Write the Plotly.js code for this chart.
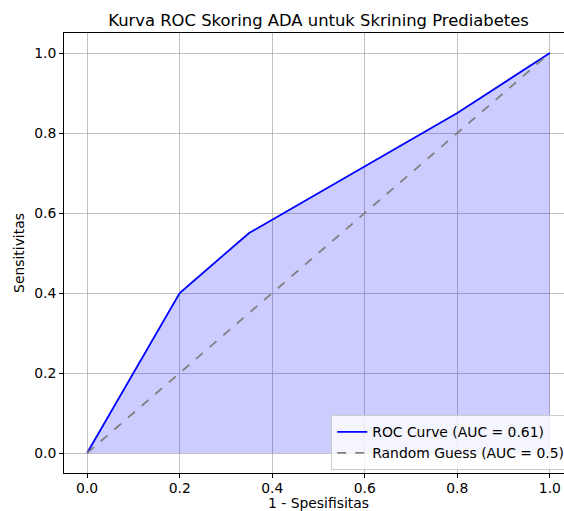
<!DOCTYPE html>
<html>
<head>
<meta charset="utf-8">
<script src="https://cdn.plot.ly/plotly-3.0.1.min.js"></script>
<style>
html,body{margin:0;padding:0;overflow:hidden;background:#fff;width:564px;height:511px;}
#chart{width:580px;height:511px;}
</style>
</head>
<body>
<div id="chart"></div>
<script>
const fpr = [0.0, 0.2, 0.35, 0.8, 1.0];
const tpr = [0.0, 0.4, 0.55, 0.85, 1.0];
const randX = [0, 1];
const randY = [0, 1];
const rocName = 'ROC Curve (AUC = 0.61)';
const randName = 'Random Guess (AUC = 0.5)';
const tickVals = [0, 0.2, 0.4, 0.6, 0.8, 1.0];
const tickText = ['0.0', '0.2', '0.4', '0.6', '0.8', '1.0'];

const font = 'DejaVu Sans, sans-serif';
const fs = 13.9;
const traces = [
  {x: fpr, y: tpr, type: 'scatter', mode: 'lines', fill: 'tozeroy',
   fillcolor: 'rgba(0,0,255,0.2)', line: {width: 0}, showlegend: false, hoverinfo: 'skip'},
  {x: fpr, y: tpr, type: 'scatter', mode: 'lines', name: rocName,
   line: {color: '#0000ff', width: 1.8}},
  {x: randX, y: randY, type: 'scatter', mode: 'lines', name: randName,
   line: {color: '#808080', width: 1.8, dash: 'dash'}}
];
const axisCommon = {
  showgrid: true, gridcolor: '#b0b0b0', gridwidth: 0.8,
  zeroline: false, showline: true, linecolor: '#000', linewidth: 1, mirror: true,
  ticks: 'outside', ticklen: 4, tickcolor: '#000', tickwidth: 1,
  tickvals: tickVals, ticktext: tickText,
  tickfont: {family: font, size: fs, color: '#000'}
};
const layout = {
  width: 580, height: 511,
  margin: {l: 64, r: 7, t: 33, b: 38},
  paper_bgcolor: '#fff', plot_bgcolor: '#fff',
  title: {text: 'Kurva ROC Skoring ADA untuk Skrining Prediabetes',
          font: {family: font, size: 16.4, color: '#000'},
          x: 0.5, xref: 'paper', xanchor: 'center', y: 1, yref: 'paper', yanchor: 'bottom', pad: {b: 7}},
  xaxis: Object.assign({}, axisCommon, {range: [-0.05, 1.05], ticklabelstandoff: -2,
    title: {text: '1 - Spesifisitas', font: {family: font, size: fs, color: '#000'}, standoff: 3}}),
  yaxis: Object.assign({}, axisCommon, {range: [-0.05, 1.05],
    title: {text: 'Sensitivitas', font: {family: font, size: fs, color: '#000'}, standoff: 6}}),
  legend: {x: 0.525, y: 0.006, xanchor: 'left', yanchor: 'bottom',
           bgcolor: 'rgba(255,255,255,0.8)', bordercolor: '#cccccc', borderwidth: 1,
           font: {family: font, size: fs, color: '#000'}, tracegroupgap: 0},
  showlegend: true
};
Plotly.newPlot('chart', traces, layout, {displayModeBar: false, staticPlot: true});
</script>
</body>
</html>
